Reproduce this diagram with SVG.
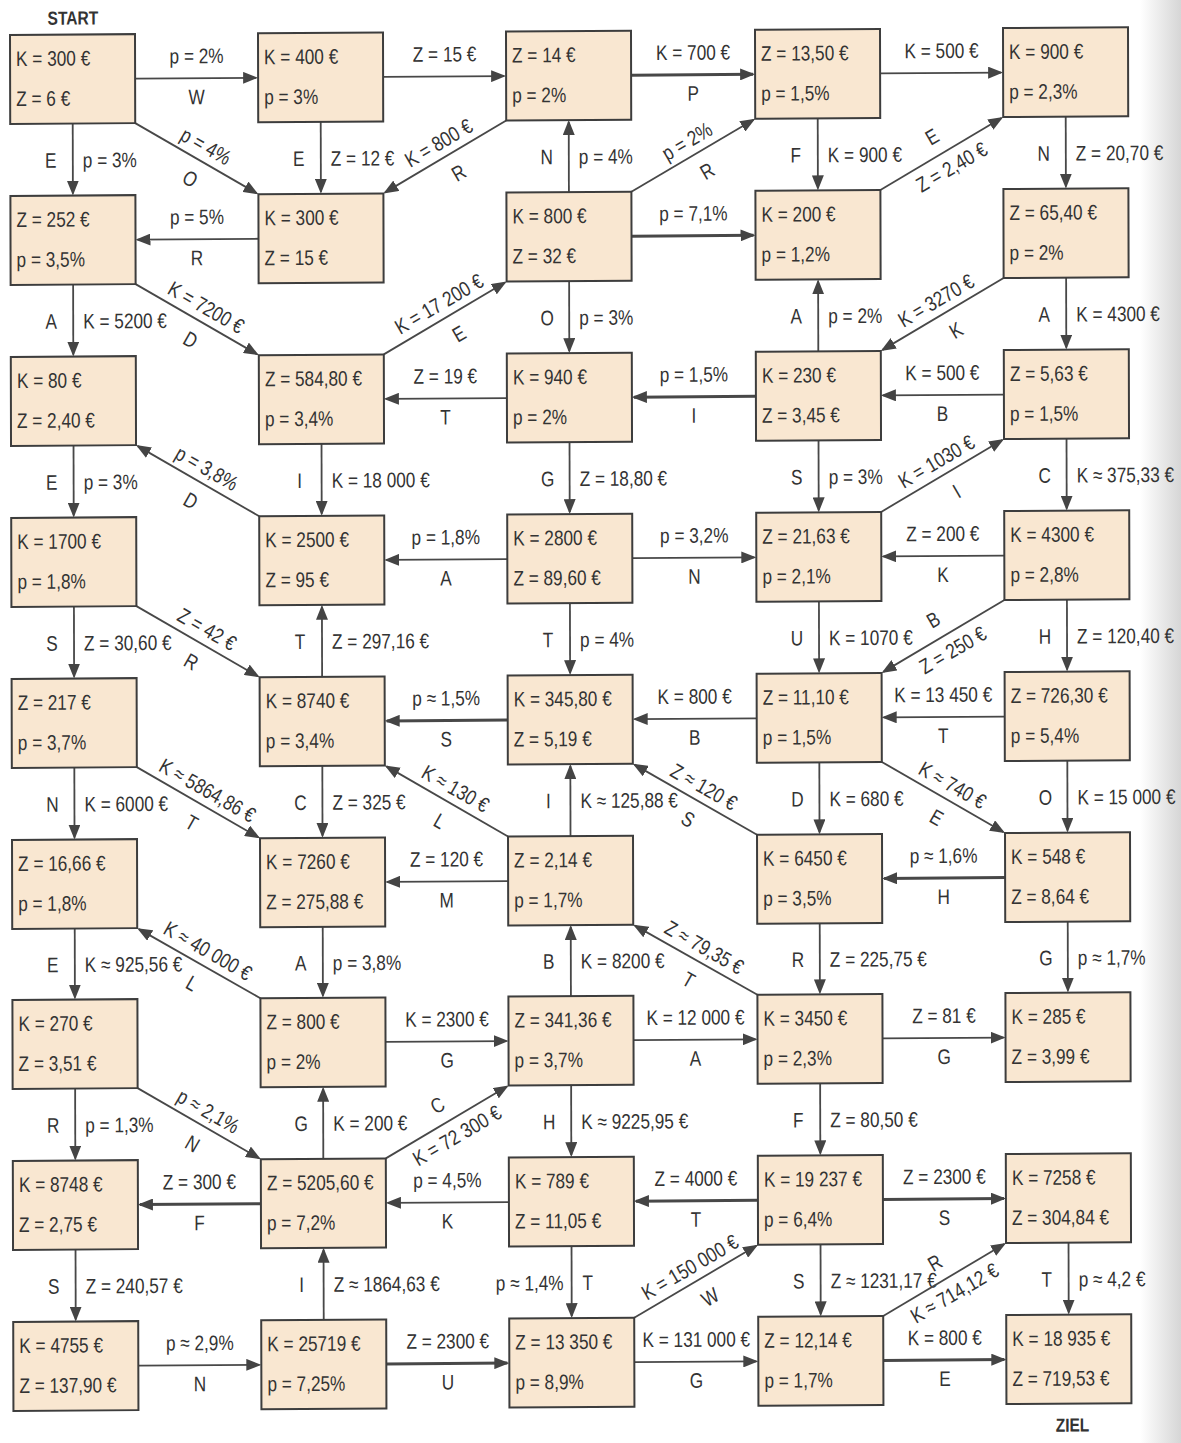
<svg xmlns="http://www.w3.org/2000/svg" width="1181" height="1443" viewBox="0 0 1181 1443">
<defs>
<marker id="ah" markerUnits="userSpaceOnUse" markerWidth="15" markerHeight="12" viewBox="0 0 15 12" refX="13" refY="6" orient="auto"><path d="M0,0 L15,6 L0,12 z" fill="#444"/></marker>
<linearGradient id="edge" x1="0" y1="0" x2="1" y2="0"><stop offset="0" stop-color="#ffffff"/><stop offset="1" stop-color="#d6d6d6"/></linearGradient>
<style>
text{font-family:"Liberation Sans",Arial,sans-serif;font-size:21px;fill:#333}
.m{text-anchor:middle}
.r{text-anchor:end}
.hd{font-weight:bold;font-size:19px}
.b{fill:#f9e7d1;stroke:#3d3d3d;stroke-width:2}
.e{fill:none;stroke:#484848;stroke-width:1.8;marker-end:url(#ah)}
.t{stroke-width:3}
</style>
</defs>
<rect width="1181" height="1443" fill="#ffffff"/>
<rect x="1140" y="0" width="41" height="1443" fill="url(#edge)"/>
<g transform="matrix(1 -0.007 0.0025 1 -0.09 0.07)">
<text class="m hd" transform="translate(73 25) scale(.82 1)">START</text>
<text class="m hd" transform="translate(1069 1439) scale(.82 1)">ZIEL</text>

<g id="connectors">
<path class="e" d="M135 79.5 L256 79.5"/><text class="m" transform="translate(196.5 64.5) scale(.82 1)">p = 2%</text><text class="m" transform="translate(196.5 105.5) scale(.82 1)">W</text>
<path class="e" d="M383 79.5 L504 79.5"/><text class="m" transform="translate(444.5 64.5) scale(.82 1)">Z = 15 €</text>
<path class="e t" d="M631 79.5 L753 79.5"/><text class="m" transform="translate(693 64.5) scale(.82 1)">K = 700 €</text><text class="m" transform="translate(693 105.5) scale(.82 1)">P</text>
<path class="e" d="M880 79.5 L1001 79.5"/><text class="m" transform="translate(941.5 64.5) scale(.82 1)">K = 500 €</text>

<path class="e" d="M72.5 124 L72.5 194"/><text class="m" transform="translate(50.5 168) scale(.82 1)">E</text><text transform="translate(82.5 168) scale(.82 1)">p = 3%</text>
<path class="e" d="M320.5 124 L320.5 194"/><text class="m" transform="translate(298.5 168) scale(.82 1)">E</text><text transform="translate(330.5 168) scale(.82 1)">Z = 12 €</text>
<path class="e" d="M568.5 196 L568.5 126"/><text class="m" transform="translate(546.5 168) scale(.82 1)">N</text><text transform="translate(578.5 168) scale(.82 1)">p = 4%</text>
<path class="e" d="M817.5 124 L817.5 194"/><text class="m" transform="translate(795.5 168) scale(.82 1)">F</text><text transform="translate(827.5 168) scale(.82 1)">K = 900 €</text>
<path class="e" d="M1065.5 124 L1065.5 194"/><text class="m" transform="translate(1043.5 168) scale(.82 1)">N</text><text transform="translate(1075.5 168) scale(.82 1)">Z = 20,70 €</text>

<path class="e" d="M135 124 L256.3 195"/><g transform="translate(196.5 160) rotate(30) scale(.82 1)"><text class="m" x="2" y="-8">p = 4%</text><text class="m" x="5" y="28">O</text></g>
<path class="e" d="M506 124 L384.7 195"/><g transform="translate(444.5 160) rotate(-30) scale(.82 1)"><text class="m" x="2" y="-8">K = 800 €</text><text class="m" x="5" y="28">R</text></g>
<path class="e" d="M631 196 L753.3 125"/><g transform="translate(693 160) rotate(-30) scale(.82 1)"><text class="m" x="2" y="-8">p = 2%</text><text class="m" x="5" y="28">R</text></g>
<path class="e" d="M880 196 L1001.3 125"/><g transform="translate(941.5 160) rotate(-30) scale(.82 1)"><text class="m" x="0" y="-12">E</text><text class="m" x="2" y="24">Z = 2,40 €</text></g>

<path class="e" d="M258 240.5 L137 240.5"/><text class="m" transform="translate(196.5 225.5) scale(.82 1)">p = 5%</text><text class="m" transform="translate(196.5 266.5) scale(.82 1)">R</text>
<path class="e t" d="M631 240.5 L753 240.5"/><text class="m" transform="translate(693 225.5) scale(.82 1)">p = 7,1%</text>

<path class="e" d="M72.5 285 L72.5 355"/><text class="m" transform="translate(50.5 329) scale(.82 1)">A</text><text transform="translate(82.5 329) scale(.82 1)">K = 5200 €</text>
<path class="e" d="M568.5 285 L568.5 355"/><text class="m" transform="translate(546.5 329) scale(.82 1)">O</text><text transform="translate(578.5 329) scale(.82 1)">p = 3%</text>
<path class="e" d="M817.5 357 L817.5 287"/><text class="m" transform="translate(795.5 329) scale(.82 1)">A</text><text transform="translate(827.5 329) scale(.82 1)">p = 2%</text>
<path class="e" d="M1065.5 285 L1065.5 355"/><text class="m" transform="translate(1043.5 329) scale(.82 1)">A</text><text transform="translate(1075.5 329) scale(.82 1)">K = 4300 €</text>

<path class="e" d="M135 285 L256.3 356"/><g transform="translate(196.5 321) rotate(30) scale(.82 1)"><text class="m" x="2" y="-8">K = 7200 €</text><text class="m" x="5" y="28">D</text></g>
<path class="e" d="M383 357 L504.3 286"/><g transform="translate(444.5 321) rotate(-30) scale(.82 1)"><text class="m" x="2" y="-8">K = 17 200 €</text><text class="m" x="5" y="28">E</text></g>
<path class="e" d="M1003 285 L881.7 356"/><g transform="translate(941.5 321) rotate(-30) scale(.82 1)"><text class="m" x="2" y="-8">K = 3270 €</text><text class="m" x="5" y="28">K</text></g>

<path class="e" d="M506 401.5 L385 401.5"/><text class="m" transform="translate(444.5 386.5) scale(.82 1)">Z = 19 €</text><text class="m" transform="translate(444.5 427.5) scale(.82 1)">T</text>
<path class="e t" d="M755 401.5 L633 401.5"/><text class="m" transform="translate(693 386.5) scale(.82 1)">p = 1,5%</text><text class="m" transform="translate(693 427.5) scale(.82 1)">I</text>
<path class="e" d="M1003 401.5 L882 401.5"/><text class="m" transform="translate(941.5 386.5) scale(.82 1)">K = 500 €</text><text class="m" transform="translate(941.5 427.5) scale(.82 1)">B</text>

<path class="e" d="M72.5 446 L72.5 516"/><text class="m" transform="translate(50.5 490) scale(.82 1)">E</text><text transform="translate(82.5 490) scale(.82 1)">p = 3%</text>
<path class="e" d="M320.5 446 L320.5 516"/><text class="m" transform="translate(298.5 490) scale(.82 1)">I</text><text transform="translate(330.5 490) scale(.82 1)">K = 18 000 €</text>
<path class="e" d="M568.5 446 L568.5 516"/><text class="m" transform="translate(546.5 490) scale(.82 1)">G</text><text transform="translate(578.5 490) scale(.82 1)">Z = 18,80 €</text>
<path class="e" d="M817.5 446 L817.5 516"/><text class="m" transform="translate(795.5 490) scale(.82 1)">S</text><text transform="translate(827.5 490) scale(.82 1)">p = 3%</text>
<path class="e" d="M1065.5 446 L1065.5 516"/><text class="m" transform="translate(1043.5 490) scale(.82 1)">C</text><text transform="translate(1075.5 490) scale(.82 1)">K ≈ 375,33 €</text>

<path class="e" d="M258 518 L136.7 447"/><g transform="translate(196.5 482) rotate(30) scale(.82 1)"><text class="m" x="2" y="-8">p = 3,8%</text><text class="m" x="5" y="28">D</text></g>
<path class="e" d="M880 518 L1001.3 447"/><g transform="translate(941.5 482) rotate(-30) scale(.82 1)"><text class="m" x="2" y="-8">K = 1030 €</text><text class="m" x="5" y="28">I</text></g>

<path class="e" d="M506 562.5 L385 562.5"/><text class="m" transform="translate(444.5 547.5) scale(.82 1)">p = 1,8%</text><text class="m" transform="translate(444.5 588.5) scale(.82 1)">A</text>
<path class="e" d="M631 562.5 L753 562.5"/><text class="m" transform="translate(693 547.5) scale(.82 1)">p = 3,2%</text><text class="m" transform="translate(693 588.5) scale(.82 1)">N</text>
<path class="e" d="M1003 562.5 L882 562.5"/><text class="m" transform="translate(941.5 547.5) scale(.82 1)">Z = 200 €</text><text class="m" transform="translate(941.5 588.5) scale(.82 1)">K</text>

<path class="e" d="M72.5 607 L72.5 677"/><text class="m" transform="translate(50.5 651) scale(.82 1)">S</text><text transform="translate(82.5 651) scale(.82 1)">Z = 30,60 €</text>
<path class="e" d="M320.5 679 L320.5 609"/><text class="m" transform="translate(298.5 651) scale(.82 1)">T</text><text transform="translate(330.5 651) scale(.82 1)">Z = 297,16 €</text>
<path class="e" d="M568.5 607 L568.5 677"/><text class="m" transform="translate(546.5 651) scale(.82 1)">T</text><text transform="translate(578.5 651) scale(.82 1)">p = 4%</text>
<path class="e" d="M817.5 607 L817.5 677"/><text class="m" transform="translate(795.5 651) scale(.82 1)">U</text><text transform="translate(827.5 651) scale(.82 1)">K = 1070 €</text>
<path class="e" d="M1065.5 607 L1065.5 677"/><text class="m" transform="translate(1043.5 651) scale(.82 1)">H</text><text transform="translate(1075.5 651) scale(.82 1)">Z = 120,40 €</text>

<path class="e" d="M135 607 L256.3 678"/><g transform="translate(196.5 643) rotate(30) scale(.82 1)"><text class="m" x="2" y="-8">Z = 42 €</text><text class="m" x="5" y="28">R</text></g>
<path class="e" d="M1003 607 L881.7 678"/><g transform="translate(941.5 643) rotate(-30) scale(.82 1)"><text class="m" x="0" y="-12">B</text><text class="m" x="2" y="24">Z = 250 €</text></g>

<path class="e t" d="M506 723.5 L385 723.5"/><text class="m" transform="translate(444.5 708.5) scale(.82 1)">p ≈ 1,5%</text><text class="m" transform="translate(444.5 749.5) scale(.82 1)">S</text>
<path class="e" d="M755 723.5 L633 723.5"/><text class="m" transform="translate(693 708.5) scale(.82 1)">K = 800 €</text><text class="m" transform="translate(693 749.5) scale(.82 1)">B</text>
<path class="e" d="M1003 723.5 L882 723.5"/><text class="m" transform="translate(941.5 708.5) scale(.82 1)">K = 13 450 €</text><text class="m" transform="translate(941.5 749.5) scale(.82 1)">T</text>

<path class="e" d="M72.5 768 L72.5 838"/><text class="m" transform="translate(50.5 812) scale(.82 1)">N</text><text transform="translate(82.5 812) scale(.82 1)">K = 6000 €</text>
<path class="e" d="M320.5 768 L320.5 838"/><text class="m" transform="translate(298.5 812) scale(.82 1)">C</text><text transform="translate(330.5 812) scale(.82 1)">Z = 325 €</text>
<path class="e" d="M568.5 840 L568.5 770"/><text class="m" transform="translate(546.5 812) scale(.82 1)">I</text><text transform="translate(578.5 812) scale(.82 1)">K ≈ 125,88 €</text>
<path class="e" d="M817.5 768 L817.5 838"/><text class="m" transform="translate(795.5 812) scale(.82 1)">D</text><text transform="translate(827.5 812) scale(.82 1)">K = 680 €</text>
<path class="e" d="M1065.5 768 L1065.5 838"/><text class="m" transform="translate(1043.5 812) scale(.82 1)">O</text><text transform="translate(1075.5 812) scale(.82 1)">K = 15 000 €</text>

<path class="e" d="M135 768 L256.3 839"/><g transform="translate(196.5 804) rotate(30) scale(.82 1)"><text class="m" x="2" y="-8">K ≈ 5864,86 €</text><text class="m" x="5" y="28">T</text></g>
<path class="e" d="M506 840 L384.7 769"/><g transform="translate(444.5 804) rotate(30) scale(.82 1)"><text class="m" x="2" y="-8">K ≈ 130 €</text><text class="m" x="5" y="28">L</text></g>
<path class="e" d="M755 840 L632.7 769"/><g transform="translate(693 804) rotate(30) scale(.82 1)"><text class="m" x="2" y="-8">Z ≈ 120 €</text><text class="m" x="5" y="28">S</text></g>
<path class="e" d="M880 768 L1001.3 839"/><g transform="translate(941.5 804) rotate(30) scale(.82 1)"><text class="m" x="2" y="-8">K ≈ 740 €</text><text class="m" x="5" y="28">E</text></g>

<path class="e" d="M506 884.5 L385 884.5"/><text class="m" transform="translate(444.5 869.5) scale(.82 1)">Z = 120 €</text><text class="m" transform="translate(444.5 910.5) scale(.82 1)">M</text>
<path class="e t" d="M1003 884.5 L882 884.5"/><text class="m" transform="translate(941.5 869.5) scale(.82 1)">p ≈ 1,6%</text><text class="m" transform="translate(941.5 910.5) scale(.82 1)">H</text>

<path class="e" d="M72.5 929 L72.5 998"/><text class="m" transform="translate(50.5 972.5) scale(.82 1)">E</text><text transform="translate(82.5 972.5) scale(.82 1)">K ≈ 925,56 €</text>
<path class="e" d="M320.5 929 L320.5 998"/><text class="m" transform="translate(298.5 972.5) scale(.82 1)">A</text><text transform="translate(330.5 972.5) scale(.82 1)">p = 3,8%</text>
<path class="e" d="M568.5 1000 L568.5 931"/><text class="m" transform="translate(546.5 972.5) scale(.82 1)">B</text><text transform="translate(578.5 972.5) scale(.82 1)">K = 8200 €</text>
<path class="e" d="M817.5 929 L817.5 998"/><text class="m" transform="translate(795.5 972.5) scale(.82 1)">R</text><text transform="translate(827.5 972.5) scale(.82 1)">Z = 225,75 €</text>
<path class="e" d="M1065.5 929 L1065.5 998"/><text class="m" transform="translate(1043.5 972.5) scale(.82 1)">G</text><text transform="translate(1075.5 972.5) scale(.82 1)">p ≈ 1,7%</text>

<path class="e" d="M258 1000 L136.7 930"/><g transform="translate(196.5 964.5) rotate(30) scale(.82 1)"><text class="m" x="2" y="-8">K ≈ 40 000 €</text><text class="m" x="5" y="28">L</text></g>
<path class="e" d="M755 1000 L632.7 930"/><g transform="translate(693 964.5) rotate(30) scale(.82 1)"><text class="m" x="2" y="-8">Z ≈ 79,35 €</text><text class="m" x="5" y="28">T</text></g>

<path class="e" d="M383 1044.5 L504 1044.5"/><text class="m" transform="translate(444.5 1029.5) scale(.82 1)">K = 2300 €</text><text class="m" transform="translate(444.5 1070.5) scale(.82 1)">G</text>
<path class="e" d="M631 1044.5 L753 1044.5"/><text class="m" transform="translate(693 1029.5) scale(.82 1)">K = 12 000 €</text><text class="m" transform="translate(693 1070.5) scale(.82 1)">A</text>
<path class="e" d="M880 1044.5 L1001 1044.5"/><text class="m" transform="translate(941.5 1029.5) scale(.82 1)">Z = 81 €</text><text class="m" transform="translate(941.5 1070.5) scale(.82 1)">G</text>

<path class="e" d="M72.5 1089 L72.5 1159"/><text class="m" transform="translate(50.5 1133) scale(.82 1)">R</text><text transform="translate(82.5 1133) scale(.82 1)">p = 1,3%</text>
<path class="e" d="M320.5 1161 L320.5 1091"/><text class="m" transform="translate(298.5 1133) scale(.82 1)">G</text><text transform="translate(330.5 1133) scale(.82 1)">K = 200 €</text>
<path class="e" d="M568.5 1089 L568.5 1159"/><text class="m" transform="translate(546.5 1133) scale(.82 1)">H</text><text transform="translate(578.5 1133) scale(.82 1)">K ≈ 9225,95 €</text>
<path class="e" d="M817.5 1089 L817.5 1159"/><text class="m" transform="translate(795.5 1133) scale(.82 1)">F</text><text transform="translate(827.5 1133) scale(.82 1)">Z = 80,50 €</text>

<path class="e" d="M135 1089 L256.3 1160"/><g transform="translate(196.5 1125) rotate(30) scale(.82 1)"><text class="m" x="2" y="-8">p ≈ 2,1%</text><text class="m" x="5" y="28">N</text></g>
<path class="e" d="M383 1161 L504.3 1090"/><g transform="translate(444.5 1125) rotate(-30) scale(.82 1)"><text class="m" x="0" y="-12">C</text><text class="m" x="2" y="24">K = 72 300 €</text></g>

<path class="e t" d="M258 1205.5 L137 1205.5"/><text class="m" transform="translate(196.5 1190.5) scale(.82 1)">Z = 300 €</text><text class="m" transform="translate(196.5 1231.5) scale(.82 1)">F</text>
<path class="e" d="M506 1205.5 L385 1205.5"/><text class="m" transform="translate(444.5 1190.5) scale(.82 1)">p = 4,5%</text><text class="m" transform="translate(444.5 1231.5) scale(.82 1)">K</text>
<path class="e t" d="M755 1205.5 L633 1205.5"/><text class="m" transform="translate(693 1190.5) scale(.82 1)">Z = 4000 €</text><text class="m" transform="translate(693 1231.5) scale(.82 1)">T</text>
<path class="e t" d="M880 1205.5 L1001 1205.5"/><text class="m" transform="translate(941.5 1190.5) scale(.82 1)">Z = 2300 €</text><text class="m" transform="translate(941.5 1231.5) scale(.82 1)">S</text>

<path class="e" d="M72.5 1250 L72.5 1320"/><text class="m" transform="translate(50.5 1294) scale(.82 1)">S</text><text transform="translate(82.5 1294) scale(.82 1)">Z = 240,57 €</text>
<path class="e" d="M320.5 1322 L320.5 1252"/><text class="m" transform="translate(298.5 1294) scale(.82 1)">I</text><text transform="translate(330.5 1294) scale(.82 1)">Z ≈ 1864,63 €</text>
<path class="e" d="M568.5 1250 L568.5 1320"/><text class="r" transform="translate(560.5 1294) scale(.82 1)">p ≈ 1,4%</text><text class="m" transform="translate(584.5 1294) scale(.82 1)">T</text>
<path class="e" d="M817.5 1250 L817.5 1320"/><text class="m" transform="translate(795.5 1294) scale(.82 1)">S</text><text transform="translate(827.5 1294) scale(.82 1)">Z ≈ 1231,17 €</text>
<path class="e" d="M1065.5 1250 L1065.5 1320"/><text class="m" transform="translate(1043.5 1294) scale(.82 1)">T</text><text transform="translate(1075.5 1294) scale(.82 1)">p ≈ 4,2 €</text>

<path class="e" d="M631 1322 L753.3 1251"/><g transform="translate(693 1286) rotate(-30) scale(.82 1)"><text class="m" x="2" y="-8">K = 150 000 €</text><text class="m" x="5" y="28">W</text></g>
<path class="e" d="M880 1322 L1001.3 1251"/><g transform="translate(941.5 1286) rotate(-30) scale(.82 1)"><text class="m" x="0" y="-12">R</text><text class="m" x="2" y="24">K ≈ 714,12 €</text></g>

<path class="e" d="M135 1366.5 L256 1366.5"/><text class="m" transform="translate(196.5 1351.5) scale(.82 1)">p ≈ 2,9%</text><text class="m" transform="translate(196.5 1392.5) scale(.82 1)">N</text>
<path class="e t" d="M383 1366.5 L504 1366.5"/><text class="m" transform="translate(444.5 1351.5) scale(.82 1)">Z = 2300 €</text><text class="m" transform="translate(444.5 1392.5) scale(.82 1)">U</text>
<path class="e" d="M631 1366.5 L753 1366.5"/><text class="m" transform="translate(693 1351.5) scale(.82 1)">K = 131 000 €</text><text class="m" transform="translate(693 1392.5) scale(.82 1)">G</text>
<path class="e t" d="M880 1366.5 L1001 1366.5"/><text class="m" transform="translate(941.5 1351.5) scale(.82 1)">K = 800 €</text><text class="m" transform="translate(941.5 1392.5) scale(.82 1)">E</text>
</g>

<g id="n-0-0" transform="translate(10 35)"><rect class="b" width="125" height="89"/><text transform="translate(6 31) scale(.82 1)">K = 300 €</text><text transform="translate(6 71) scale(.82 1)">Z = 6 €</text></g>
<g id="n-0-1" transform="translate(258 35)"><rect class="b" width="125" height="89"/><text transform="translate(6 31) scale(.82 1)">K = 400 €</text><text transform="translate(6 71) scale(.82 1)">p = 3%</text></g>
<g id="n-0-2" transform="translate(506 35)"><rect class="b" width="125" height="89"/><text transform="translate(6 31) scale(.82 1)">Z = 14 €</text><text transform="translate(6 71) scale(.82 1)">p = 2%</text></g>
<g id="n-0-3" transform="translate(755 35)"><rect class="b" width="125" height="89"/><text transform="translate(6 31) scale(.82 1)">Z = 13,50 €</text><text transform="translate(6 71) scale(.82 1)">p = 1,5%</text></g>
<g id="n-0-4" transform="translate(1003 35)"><rect class="b" width="125" height="89"/><text transform="translate(6 31) scale(.82 1)">K = 900 €</text><text transform="translate(6 71) scale(.82 1)">p = 2,3%</text></g>

<g id="n-1-0" transform="translate(10 196)"><rect class="b" width="125" height="89"/><text transform="translate(6 31) scale(.82 1)">Z = 252 €</text><text transform="translate(6 71) scale(.82 1)">p = 3,5%</text></g>
<g id="n-1-1" transform="translate(258 196)"><rect class="b" width="125" height="89"/><text transform="translate(6 31) scale(.82 1)">K = 300 €</text><text transform="translate(6 71) scale(.82 1)">Z = 15 €</text></g>
<g id="n-1-2" transform="translate(506 196)"><rect class="b" width="125" height="89"/><text transform="translate(6 31) scale(.82 1)">K = 800 €</text><text transform="translate(6 71) scale(.82 1)">Z = 32 €</text></g>
<g id="n-1-3" transform="translate(755 196)"><rect class="b" width="125" height="89"/><text transform="translate(6 31) scale(.82 1)">K = 200 €</text><text transform="translate(6 71) scale(.82 1)">p = 1,2%</text></g>
<g id="n-1-4" transform="translate(1003 196)"><rect class="b" width="125" height="89"/><text transform="translate(6 31) scale(.82 1)">Z = 65,40 €</text><text transform="translate(6 71) scale(.82 1)">p = 2%</text></g>

<g id="n-2-0" transform="translate(10 357)"><rect class="b" width="125" height="89"/><text transform="translate(6 31) scale(.82 1)">K = 80 €</text><text transform="translate(6 71) scale(.82 1)">Z = 2,40 €</text></g>
<g id="n-2-1" transform="translate(258 357)"><rect class="b" width="125" height="89"/><text transform="translate(6 31) scale(.82 1)">Z = 584,80 €</text><text transform="translate(6 71) scale(.82 1)">p = 3,4%</text></g>
<g id="n-2-2" transform="translate(506 357)"><rect class="b" width="125" height="89"/><text transform="translate(6 31) scale(.82 1)">K = 940 €</text><text transform="translate(6 71) scale(.82 1)">p = 2%</text></g>
<g id="n-2-3" transform="translate(755 357)"><rect class="b" width="125" height="89"/><text transform="translate(6 31) scale(.82 1)">K = 230 €</text><text transform="translate(6 71) scale(.82 1)">Z = 3,45 €</text></g>
<g id="n-2-4" transform="translate(1003 357)"><rect class="b" width="125" height="89"/><text transform="translate(6 31) scale(.82 1)">Z = 5,63 €</text><text transform="translate(6 71) scale(.82 1)">p = 1,5%</text></g>

<g id="n-3-0" transform="translate(10 518)"><rect class="b" width="125" height="89"/><text transform="translate(6 31) scale(.82 1)">K = 1700 €</text><text transform="translate(6 71) scale(.82 1)">p = 1,8%</text></g>
<g id="n-3-1" transform="translate(258 518)"><rect class="b" width="125" height="89"/><text transform="translate(6 31) scale(.82 1)">K = 2500 €</text><text transform="translate(6 71) scale(.82 1)">Z = 95 €</text></g>
<g id="n-3-2" transform="translate(506 518)"><rect class="b" width="125" height="89"/><text transform="translate(6 31) scale(.82 1)">K = 2800 €</text><text transform="translate(6 71) scale(.82 1)">Z = 89,60 €</text></g>
<g id="n-3-3" transform="translate(755 518)"><rect class="b" width="125" height="89"/><text transform="translate(6 31) scale(.82 1)">Z = 21,63 €</text><text transform="translate(6 71) scale(.82 1)">p = 2,1%</text></g>
<g id="n-3-4" transform="translate(1003 518)"><rect class="b" width="125" height="89"/><text transform="translate(6 31) scale(.82 1)">K = 4300 €</text><text transform="translate(6 71) scale(.82 1)">p = 2,8%</text></g>

<g id="n-4-0" transform="translate(10 679)"><rect class="b" width="125" height="89"/><text transform="translate(6 31) scale(.82 1)">Z = 217 €</text><text transform="translate(6 71) scale(.82 1)">p = 3,7%</text></g>
<g id="n-4-1" transform="translate(258 679)"><rect class="b" width="125" height="89"/><text transform="translate(6 31) scale(.82 1)">K = 8740 €</text><text transform="translate(6 71) scale(.82 1)">p = 3,4%</text></g>
<g id="n-4-2" transform="translate(506 679)"><rect class="b" width="125" height="89"/><text transform="translate(6 31) scale(.82 1)">K = 345,80 €</text><text transform="translate(6 71) scale(.82 1)">Z = 5,19 €</text></g>
<g id="n-4-3" transform="translate(755 679)"><rect class="b" width="125" height="89"/><text transform="translate(6 31) scale(.82 1)">Z = 11,10 €</text><text transform="translate(6 71) scale(.82 1)">p = 1,5%</text></g>
<g id="n-4-4" transform="translate(1003 679)"><rect class="b" width="125" height="89"/><text transform="translate(6 31) scale(.82 1)">Z = 726,30 €</text><text transform="translate(6 71) scale(.82 1)">p = 5,4%</text></g>

<g id="n-5-0" transform="translate(10 840)"><rect class="b" width="125" height="89"/><text transform="translate(6 31) scale(.82 1)">Z = 16,66 €</text><text transform="translate(6 71) scale(.82 1)">p = 1,8%</text></g>
<g id="n-5-1" transform="translate(258 840)"><rect class="b" width="125" height="89"/><text transform="translate(6 31) scale(.82 1)">K = 7260 €</text><text transform="translate(6 71) scale(.82 1)">Z = 275,88 €</text></g>
<g id="n-5-2" transform="translate(506 840)"><rect class="b" width="125" height="89"/><text transform="translate(6 31) scale(.82 1)">Z = 2,14 €</text><text transform="translate(6 71) scale(.82 1)">p = 1,7%</text></g>
<g id="n-5-3" transform="translate(755 840)"><rect class="b" width="125" height="89"/><text transform="translate(6 31) scale(.82 1)">K = 6450 €</text><text transform="translate(6 71) scale(.82 1)">p = 3,5%</text></g>
<g id="n-5-4" transform="translate(1003 840)"><rect class="b" width="125" height="89"/><text transform="translate(6 31) scale(.82 1)">K = 548 €</text><text transform="translate(6 71) scale(.82 1)">Z = 8,64 €</text></g>

<g id="n-6-0" transform="translate(10 1000)"><rect class="b" width="125" height="89"/><text transform="translate(6 31) scale(.82 1)">K = 270 €</text><text transform="translate(6 71) scale(.82 1)">Z = 3,51 €</text></g>
<g id="n-6-1" transform="translate(258 1000)"><rect class="b" width="125" height="89"/><text transform="translate(6 31) scale(.82 1)">Z = 800 €</text><text transform="translate(6 71) scale(.82 1)">p = 2%</text></g>
<g id="n-6-2" transform="translate(506 1000)"><rect class="b" width="125" height="89"/><text transform="translate(6 31) scale(.82 1)">Z = 341,36 €</text><text transform="translate(6 71) scale(.82 1)">p = 3,7%</text></g>
<g id="n-6-3" transform="translate(755 1000)"><rect class="b" width="125" height="89"/><text transform="translate(6 31) scale(.82 1)">K = 3450 €</text><text transform="translate(6 71) scale(.82 1)">p = 2,3%</text></g>
<g id="n-6-4" transform="translate(1003 1000)"><rect class="b" width="125" height="89"/><text transform="translate(6 31) scale(.82 1)">K = 285 €</text><text transform="translate(6 71) scale(.82 1)">Z = 3,99 €</text></g>

<g id="n-7-0" transform="translate(10 1161)"><rect class="b" width="125" height="89"/><text transform="translate(6 31) scale(.82 1)">K = 8748 €</text><text transform="translate(6 71) scale(.82 1)">Z = 2,75 €</text></g>
<g id="n-7-1" transform="translate(258 1161)"><rect class="b" width="125" height="89"/><text transform="translate(6 31) scale(.82 1)">Z = 5205,60 €</text><text transform="translate(6 71) scale(.82 1)">p = 7,2%</text></g>
<g id="n-7-2" transform="translate(506 1161)"><rect class="b" width="125" height="89"/><text transform="translate(6 31) scale(.82 1)">K = 789 €</text><text transform="translate(6 71) scale(.82 1)">Z = 11,05 €</text></g>
<g id="n-7-3" transform="translate(755 1161)"><rect class="b" width="125" height="89"/><text transform="translate(6 31) scale(.82 1)">K = 19 237 €</text><text transform="translate(6 71) scale(.82 1)">p = 6,4%</text></g>
<g id="n-7-4" transform="translate(1003 1161)"><rect class="b" width="125" height="89"/><text transform="translate(6 31) scale(.82 1)">K = 7258 €</text><text transform="translate(6 71) scale(.82 1)">Z = 304,84 €</text></g>

<g id="n-8-0" transform="translate(10 1322)"><rect class="b" width="125" height="89"/><text transform="translate(6 31) scale(.82 1)">K = 4755 €</text><text transform="translate(6 71) scale(.82 1)">Z = 137,90 €</text></g>
<g id="n-8-1" transform="translate(258 1322)"><rect class="b" width="125" height="89"/><text transform="translate(6 31) scale(.82 1)">K = 25719 €</text><text transform="translate(6 71) scale(.82 1)">p = 7,25%</text></g>
<g id="n-8-2" transform="translate(506 1322)"><rect class="b" width="125" height="89"/><text transform="translate(6 31) scale(.82 1)">Z = 13 350 €</text><text transform="translate(6 71) scale(.82 1)">p = 8,9%</text></g>
<g id="n-8-3" transform="translate(755 1322)"><rect class="b" width="125" height="89"/><text transform="translate(6 31) scale(.82 1)">Z = 12,14 €</text><text transform="translate(6 71) scale(.82 1)">p = 1,7%</text></g>
<g id="n-8-4" transform="translate(1003 1322)"><rect class="b" width="125" height="89"/><text transform="translate(6 31) scale(.82 1)">K = 18 935 €</text><text transform="translate(6 71) scale(.82 1)">Z = 719,53 €</text></g>
</g>
</svg>
